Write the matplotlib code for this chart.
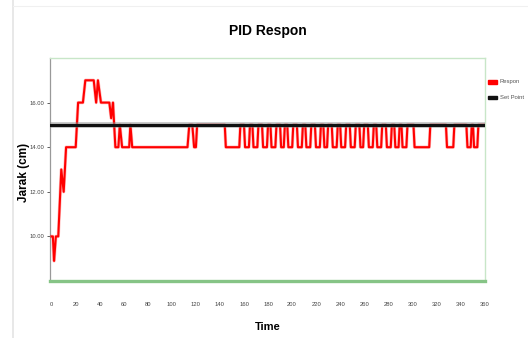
import matplotlib
matplotlib.use("Agg")
import matplotlib.pyplot as plt
from matplotlib.lines import Line2D
from matplotlib.patches import Rectangle

plt.rcParams['font.family'] = ['Liberation Sans', 'DejaVu Sans']

# ---- data ----
title = "PID Respon"
x_label = "Time"
y_label = "Jarak (cm)"
series_names = ["Respon", "Set Point"]
x_ticks = [0, 20, 40, 60, 80, 100, 120, 140, 160, 180, 200, 220, 240, 260, 280, 300, 320, 340, 360]
y_ticks = [10, 12, 14, 16]

# response: start transient
t_start = [0, 1, 2, 3.5, 5.5, 8, 10, 12, 20, 22, 26, 28, 35, 37, 38.5, 41, 48, 49.5, 51, 53,
           55.5, 56.7, 58.6, 64.5, 65.5, 67, 113, 114.5, 117, 118.5, 120, 121]
v_start = [10, 10, 8.9, 10, 10, 13, 12, 14, 14, 16, 16, 17, 17, 16, 17, 16, 16, 15.3, 16, 14,
           14, 15, 14, 14, 15, 14, 14, 15, 15, 14, 14, 15]
# response: oscillation between 14 and 15 (periods at 14 cm: start, end)
dip_start = [144, 160, 167, 175, 182, 190, 196, 204, 211, 219, 226, 233, 240, 248, 256,
             263, 270, 278, 285, 291, 301, 328, 345, 350.5]
dip_end = [157, 165, 172, 180, 187, 194, 201, 209, 216, 224, 230, 238, 245, 253, 260,
           268, 275, 283, 289.5, 296, 315, 335, 349.5, 355]
t_final = 360
set_point = 15

# ---- build response polyline ----
t_resp = list(t_start)
v_resp = list(v_start)
for a, b in zip(dip_start, dip_end):
    t_resp += [a, a + 0.9, b - 0.9, b]
    v_resp += [15, 14, 14, 15]
t_resp.append(t_final)
v_resp.append(15)

fig = plt.figure(figsize=(5.28, 3.38), dpi=100)
ax = fig.add_axes([49.5 / 528, 1 - 281 / 338, 435.5 / 528, 223 / 338])

ax.plot(t_resp, v_resp, color='#ff0000', lw=2.4, alpha=0.25, zorder=2.9)
ax.plot(t_resp, v_resp, color='#ff0000', lw=1.5, label=series_names[0], zorder=3)
ax.axhline(set_point, color='#888888', lw=4.0, alpha=0.55, zorder=3.5)
ax.axhline(set_point, color='#111111', lw=2.2, label=series_names[1], zorder=4)

ax.set_xlim(-1.8, 360.5)
ax.set_ylim(8, 18)
ax.set_xticks(x_ticks)
ax.set_xticklabels([str(v) for v in x_ticks])
ax.set_yticks(y_ticks)
ax.set_yticklabels(["%.2f" % v for v in y_ticks])
ax.tick_params(axis='x', length=0, pad=15, labelsize=4.2, colors='#444444')
ax.tick_params(axis='y', length=2, width=0.6, pad=1.5, labelsize=4.2, colors='#444444')

for s in ['top', 'right']:
    ax.spines[s].set_color('#c8e6c8')
    ax.spines[s].set_linewidth(1.0)
ax.spines['bottom'].set_color('#86c486')
ax.spines['bottom'].set_linewidth(2.4)
ax.spines['left'].set_color('#999999')
ax.spines['left'].set_linewidth(0.9)

fig.text(268 / 528, 1 - 31 / 338, title, ha='center', va='center', fontsize=10,
         fontweight='bold')
fig.text(268 / 528, 1 - 327 / 338, x_label, ha='center', va='center', fontsize=8,
         fontweight='bold')
fig.text(24 / 528, 1 - 172 / 338, y_label, ha='center', va='center', fontsize=8.5,
         fontweight='bold', rotation=90)

# legend (manual, small)
fig.add_artist(Rectangle((488 / 528, 1 - 84 / 338), 9 / 528, 4 / 338,
                         transform=fig.transFigure, color='#ff0000'))
fig.add_artist(Rectangle((488 / 528, 1 - 99 / 338), 9 / 528, 3 / 338,
                         transform=fig.transFigure, color='#111111'))
fig.text(500 / 528, 1 - 82 / 338, series_names[0], fontsize=4.2, va='center',
         color='#555555')
fig.text(500 / 528, 1 - 98 / 338, series_names[1], fontsize=4.2, va='center',
         color='#555555')

# faint frame line at the left of the image
fig.add_artist(Line2D([13 / 528, 13 / 528], [0, 1], transform=fig.transFigure,
                      color='#e4e4e4', lw=1.2))
fig.add_artist(Line2D([13 / 528, 1], [1 - 6 / 338, 1 - 6 / 338], transform=fig.transFigure,
                      color='#f0f0f0', lw=0.8))

fig.savefig("out.png", dpi=100)
